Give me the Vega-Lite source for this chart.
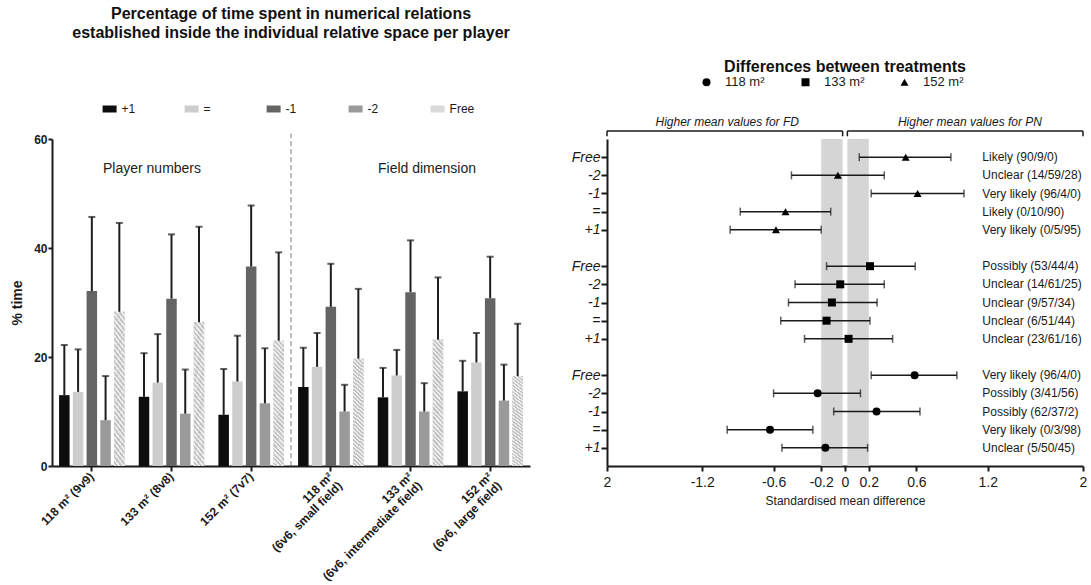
{
  "$schema": "https://vega.github.io/schema/vega-lite/v6.json",
  "padding": {"left": 10, "top": 6, "right": 0, "bottom": 0},
  "spacing": 41,
  "resolve": {"legend": {"color": "independent", "shape": "independent"}},
  "datasets": {
    "shares": [
      {"setting": "118 m² (9v9)", "relation": "+1", "mean": 13.0, "upper": 22.2},
      {"setting": "118 m² (9v9)", "relation": "=", "mean": 13.6, "upper": 21.4},
      {"setting": "118 m² (9v9)", "relation": "-1", "mean": 32.1, "upper": 45.7},
      {"setting": "118 m² (9v9)", "relation": "-2", "mean": 8.4, "upper": 16.5},
      {"setting": "118 m² (9v9)", "relation": "Free", "mean": 28.3, "upper": 44.6},
      {"setting": "133 m² (8v8)", "relation": "+1", "mean": 12.7, "upper": 20.7},
      {"setting": "133 m² (8v8)", "relation": "=", "mean": 15.3, "upper": 24.2},
      {"setting": "133 m² (8v8)", "relation": "-1", "mean": 30.7, "upper": 42.5},
      {"setting": "133 m² (8v8)", "relation": "-2", "mean": 9.6, "upper": 17.7},
      {"setting": "133 m² (8v8)", "relation": "Free", "mean": 26.4, "upper": 43.9},
      {"setting": "152 m² (7v7)", "relation": "+1", "mean": 9.4, "upper": 17.8},
      {"setting": "152 m² (7v7)", "relation": "=", "mean": 15.5, "upper": 23.9},
      {"setting": "152 m² (7v7)", "relation": "-1", "mean": 36.6, "upper": 47.8},
      {"setting": "152 m² (7v7)", "relation": "-2", "mean": 11.5, "upper": 21.6},
      {"setting": "152 m² (7v7)", "relation": "Free", "mean": 23.0, "upper": 39.2},
      {"setting": "118 m²|(6v6, small field)", "relation": "+1", "mean": 14.5, "upper": 21.7},
      {"setting": "118 m²|(6v6, small field)", "relation": "=", "mean": 18.2, "upper": 24.4},
      {"setting": "118 m²|(6v6, small field)", "relation": "-1", "mean": 29.2, "upper": 37.1},
      {"setting": "118 m²|(6v6, small field)", "relation": "-2", "mean": 10.0, "upper": 14.9},
      {"setting": "118 m²|(6v6, small field)", "relation": "Free", "mean": 19.7, "upper": 32.5},
      {"setting": "133 m²|(6v6, intermediate field)", "relation": "+1", "mean": 12.6, "upper": 18.0},
      {"setting": "133 m²|(6v6, intermediate field)", "relation": "=", "mean": 16.6, "upper": 21.3},
      {"setting": "133 m²|(6v6, intermediate field)", "relation": "-1", "mean": 31.9, "upper": 41.4},
      {"setting": "133 m²|(6v6, intermediate field)", "relation": "-2", "mean": 10.0, "upper": 15.2},
      {"setting": "133 m²|(6v6, intermediate field)", "relation": "Free", "mean": 23.2, "upper": 34.6},
      {"setting": "152 m²|(6v6, large field)", "relation": "+1", "mean": 13.7, "upper": 19.3},
      {"setting": "152 m²|(6v6, large field)", "relation": "=", "mean": 19.0, "upper": 24.4},
      {"setting": "152 m²|(6v6, large field)", "relation": "-1", "mean": 30.8, "upper": 38.4},
      {"setting": "152 m²|(6v6, large field)", "relation": "-2", "mean": 12.0, "upper": 18.6},
      {"setting": "152 m²|(6v6, large field)", "relation": "Free", "mean": 16.5, "upper": 26.1}
    ],
    "panels": [
      {"note": "Player numbers", "setting": "133 m² (8v8)"},
      {"note": "Field dimension", "setting": "133 m²|(6v6, intermediate field)"}
    ],
    "diffs": [
      {"area": "152 m²", "relation": "Free", "row": 17, "est": 0.51, "lo": 0.12, "hi": 0.89, "inference": "Likely (90/9/0)"},
      {"area": "152 m²", "relation": "-2", "row": 16, "est": -0.06, "lo": -0.45, "hi": 0.33, "inference": "Unclear (14/59/28)"},
      {"area": "152 m²", "relation": "-1", "row": 15, "est": 0.61, "lo": 0.22, "hi": 1.0, "inference": "Very likely (96/4/0)"},
      {"area": "152 m²", "relation": "=", "row": 14, "est": -0.5, "lo": -0.88, "hi": -0.12, "inference": "Likely (0/10/90)"},
      {"area": "152 m²", "relation": "+1", "row": 13, "est": -0.58, "lo": -0.965, "hi": -0.2, "inference": "Very likely (0/5/95)"},
      {"area": "133 m²", "relation": "Free", "row": 11, "est": 0.21, "lo": -0.155, "hi": 0.59, "inference": "Possibly (53/44/4)"},
      {"area": "133 m²", "relation": "-2", "row": 10, "est": -0.04, "lo": -0.42, "hi": 0.33, "inference": "Unclear (14/61/25)"},
      {"area": "133 m²", "relation": "-1", "row": 9, "est": -0.11, "lo": -0.475, "hi": 0.27, "inference": "Unclear (9/57/34)"},
      {"area": "133 m²", "relation": "=", "row": 8, "est": -0.155, "lo": -0.54, "hi": 0.21, "inference": "Unclear (6/51/44)"},
      {"area": "133 m²", "relation": "+1", "row": 7, "est": 0.03, "lo": -0.34, "hi": 0.4, "inference": "Unclear (23/61/16)"},
      {"area": "118 m²", "relation": "Free", "row": 5, "est": 0.585, "lo": 0.22, "hi": 0.94, "inference": "Very likely (96/4/0)"},
      {"area": "118 m²", "relation": "-2", "row": 4, "est": -0.23, "lo": -0.6, "hi": 0.13, "inference": "Possibly (3/41/56)"},
      {"area": "118 m²", "relation": "-1", "row": 3, "est": 0.265, "lo": -0.095, "hi": 0.63, "inference": "Possibly (62/37/2)"},
      {"area": "118 m²", "relation": "=", "row": 2, "est": -0.63, "lo": -0.99, "hi": -0.27, "inference": "Very likely (0/3/98)"},
      {"area": "118 m²", "relation": "+1", "row": 1, "est": -0.165, "lo": -0.53, "hi": 0.19, "inference": "Unclear (5/50/45)"}
    ],
    "bands": [
      {"lo": -0.2, "hi": -0.02},
      {"lo": 0.02, "hi": 0.2}
    ],
    "brackets": [
      {"side": "FD", "from": -2, "to": -0.02, "mid": -0.99, "note": "Higher mean values for FD"},
      {"side": "PN", "from": 0.02, "to": 2, "mid": 1.05, "note": "Higher mean values for PN"}
    ]
  },
  "hconcat": [
    {
      "width": 478,
      "height": 327,
      "title": {
        "text": ["Percentage of time spent in numerical relations", "established inside the individual relative space per player"],
        "fontSize": 16, "fontWeight": "bold", "anchor": "middle", "frame": "group",
        "offset": 61, "lineHeight": 19, "color": "#111111"
      },
      "layer": [
        {
          "data": {"name": "shares"},
          "mark": {"type": "bar"},
          "encoding": {
            "x": {
              "field": "setting", "type": "nominal",
              "scale": {"domain": ["118 m² (9v9)", "133 m² (8v8)", "152 m² (7v7)", "118 m²|(6v6, small field)", "133 m²|(6v6, intermediate field)", "152 m²|(6v6, large field)"], "paddingInner": 0, "paddingOuter": 0},
              "axis": {"title": null, "labelExpr": "split(datum.label, '|')", "labelAngle": -45, "labelAlign": "right", "labelBaseline": "middle", "labelFontSize": 12, "labelFontWeight": "bold", "labelPadding": 3, "labelLineHeight": 13, "labelLimit": 300, "labelOverlap": false, "tickSize": 5, "tickWidth": 2, "domainWidth": 2}
            },
            "xOffset": {"field": "relation", "type": "nominal", "scale": {"domain": ["+1", "=", "-1", "-2", "Free"], "paddingInner": 0.236, "paddingOuter": 0.515}},
            "y": {
              "field": "mean", "type": "quantitative",
              "scale": {"domain": [0, 60], "nice": false},
              "axis": {"values": [0, 20, 40, 60], "title": "% time", "titleFontSize": 14, "titleFontWeight": "bold", "titlePadding": 9, "labelFontSize": 12, "labelFontWeight": "bold", "labelPadding": 1, "tickSize": 4, "tickWidth": 2, "domainWidth": 2}
            },
            "color": {
              "field": "relation", "type": "nominal",
              "scale": {"domain": ["+1", "=", "-1", "-2", "Free"], "range": ["#0d0d0d", "#cdcdcd", "#646464", "#9a9a9a", "#dadada"]},
              "legend": {"orient": "none", "legendX": 50.6, "legendY": -37, "direction": "horizontal", "title": null, "gridAlign": "all", "columnPadding": 38, "labelFontSize": 12, "labelOffset": 5, "symbolType": "M-1,-0.5H1V0.5H-1Z", "symbolSize": 196, "symbolStrokeWidth": 0, "padding": 0}
            }
          }
        },
        {
          "data": {"name": "shares"},
          "transform": [{"filter": "datum.relation == 'Free'"}],
          "mark": {
            "type": "bar",
            "fill": {
              "gradient": "linear", "x1": 0, "y1": 1, "x2": 0.0938, "y2": -0.0788,
              "stops": [
                {"offset": 0, "color": "#ececec"}, {"offset": 0.01667, "color": "#ececec"}, {"offset": 0.01667, "color": "#c3c3c3"}, {"offset": 0.03333, "color": "#c3c3c3"},
                {"offset": 0.03333, "color": "#ececec"}, {"offset": 0.05, "color": "#ececec"}, {"offset": 0.05, "color": "#c3c3c3"}, {"offset": 0.06667, "color": "#c3c3c3"},
                {"offset": 0.06667, "color": "#ececec"}, {"offset": 0.08333, "color": "#ececec"}, {"offset": 0.08333, "color": "#c3c3c3"}, {"offset": 0.1, "color": "#c3c3c3"},
                {"offset": 0.1, "color": "#ececec"}, {"offset": 0.11667, "color": "#ececec"}, {"offset": 0.11667, "color": "#c3c3c3"}, {"offset": 0.13333, "color": "#c3c3c3"},
                {"offset": 0.13333, "color": "#ececec"}, {"offset": 0.15, "color": "#ececec"}, {"offset": 0.15, "color": "#c3c3c3"}, {"offset": 0.16667, "color": "#c3c3c3"},
                {"offset": 0.16667, "color": "#ececec"}, {"offset": 0.18333, "color": "#ececec"}, {"offset": 0.18333, "color": "#c3c3c3"}, {"offset": 0.2, "color": "#c3c3c3"},
                {"offset": 0.2, "color": "#ececec"}, {"offset": 0.21667, "color": "#ececec"}, {"offset": 0.21667, "color": "#c3c3c3"}, {"offset": 0.23333, "color": "#c3c3c3"},
                {"offset": 0.23333, "color": "#ececec"}, {"offset": 0.25, "color": "#ececec"}, {"offset": 0.25, "color": "#c3c3c3"}, {"offset": 0.26667, "color": "#c3c3c3"},
                {"offset": 0.26667, "color": "#ececec"}, {"offset": 0.28333, "color": "#ececec"}, {"offset": 0.28333, "color": "#c3c3c3"}, {"offset": 0.3, "color": "#c3c3c3"},
                {"offset": 0.3, "color": "#ececec"}, {"offset": 0.31667, "color": "#ececec"}, {"offset": 0.31667, "color": "#c3c3c3"}, {"offset": 0.33333, "color": "#c3c3c3"},
                {"offset": 0.33333, "color": "#ececec"}, {"offset": 0.35, "color": "#ececec"}, {"offset": 0.35, "color": "#c3c3c3"}, {"offset": 0.36667, "color": "#c3c3c3"},
                {"offset": 0.36667, "color": "#ececec"}, {"offset": 0.38333, "color": "#ececec"}, {"offset": 0.38333, "color": "#c3c3c3"}, {"offset": 0.4, "color": "#c3c3c3"},
                {"offset": 0.4, "color": "#ececec"}, {"offset": 0.41667, "color": "#ececec"}, {"offset": 0.41667, "color": "#c3c3c3"}, {"offset": 0.43333, "color": "#c3c3c3"},
                {"offset": 0.43333, "color": "#ececec"}, {"offset": 0.45, "color": "#ececec"}, {"offset": 0.45, "color": "#c3c3c3"}, {"offset": 0.46667, "color": "#c3c3c3"},
                {"offset": 0.46667, "color": "#ececec"}, {"offset": 0.48333, "color": "#ececec"}, {"offset": 0.48333, "color": "#c3c3c3"}, {"offset": 0.5, "color": "#c3c3c3"},
                {"offset": 0.5, "color": "#ececec"}, {"offset": 0.51667, "color": "#ececec"}, {"offset": 0.51667, "color": "#c3c3c3"}, {"offset": 0.53333, "color": "#c3c3c3"},
                {"offset": 0.53333, "color": "#ececec"}, {"offset": 0.55, "color": "#ececec"}, {"offset": 0.55, "color": "#c3c3c3"}, {"offset": 0.56667, "color": "#c3c3c3"},
                {"offset": 0.56667, "color": "#ececec"}, {"offset": 0.58333, "color": "#ececec"}, {"offset": 0.58333, "color": "#c3c3c3"}, {"offset": 0.6, "color": "#c3c3c3"},
                {"offset": 0.6, "color": "#ececec"}, {"offset": 0.61667, "color": "#ececec"}, {"offset": 0.61667, "color": "#c3c3c3"}, {"offset": 0.63333, "color": "#c3c3c3"},
                {"offset": 0.63333, "color": "#ececec"}, {"offset": 0.65, "color": "#ececec"}, {"offset": 0.65, "color": "#c3c3c3"}, {"offset": 0.66667, "color": "#c3c3c3"},
                {"offset": 0.66667, "color": "#ececec"}, {"offset": 0.68333, "color": "#ececec"}, {"offset": 0.68333, "color": "#c3c3c3"}, {"offset": 0.7, "color": "#c3c3c3"},
                {"offset": 0.7, "color": "#ececec"}, {"offset": 0.71667, "color": "#ececec"}, {"offset": 0.71667, "color": "#c3c3c3"}, {"offset": 0.73333, "color": "#c3c3c3"},
                {"offset": 0.73333, "color": "#ececec"}, {"offset": 0.75, "color": "#ececec"}, {"offset": 0.75, "color": "#c3c3c3"}, {"offset": 0.76667, "color": "#c3c3c3"},
                {"offset": 0.76667, "color": "#ececec"}, {"offset": 0.78333, "color": "#ececec"}, {"offset": 0.78333, "color": "#c3c3c3"}, {"offset": 0.8, "color": "#c3c3c3"},
                {"offset": 0.8, "color": "#ececec"}, {"offset": 0.81667, "color": "#ececec"}, {"offset": 0.81667, "color": "#c3c3c3"}, {"offset": 0.83333, "color": "#c3c3c3"},
                {"offset": 0.83333, "color": "#ececec"}, {"offset": 0.85, "color": "#ececec"}, {"offset": 0.85, "color": "#c3c3c3"}, {"offset": 0.86667, "color": "#c3c3c3"},
                {"offset": 0.86667, "color": "#ececec"}, {"offset": 0.88333, "color": "#ececec"}, {"offset": 0.88333, "color": "#c3c3c3"}, {"offset": 0.9, "color": "#c3c3c3"},
                {"offset": 0.9, "color": "#ececec"}, {"offset": 0.91667, "color": "#ececec"}, {"offset": 0.91667, "color": "#c3c3c3"}, {"offset": 0.93333, "color": "#c3c3c3"},
                {"offset": 0.93333, "color": "#ececec"}, {"offset": 0.95, "color": "#ececec"}, {"offset": 0.95, "color": "#c3c3c3"}, {"offset": 0.96667, "color": "#c3c3c3"},
                {"offset": 0.96667, "color": "#ececec"}, {"offset": 0.98333, "color": "#ececec"}, {"offset": 0.98333, "color": "#c3c3c3"}, {"offset": 1, "color": "#c3c3c3"}
              ]
            }
          },
          "encoding": {
            "x": {"field": "setting", "type": "nominal"},
            "xOffset": {"field": "relation", "type": "nominal"},
            "y": {"field": "mean", "type": "quantitative"}
          }
        },
        {
          "data": {"name": "shares"},
          "mark": {"type": "rule", "color": "#1e1e1e", "strokeWidth": 2},
          "encoding": {
            "x": {"field": "setting", "type": "nominal"},
            "xOffset": {"field": "relation", "type": "nominal"},
            "y": {"field": "mean", "type": "quantitative"},
            "y2": {"field": "upper"}
          }
        },
        {
          "data": {"name": "shares"},
          "mark": {"type": "tick", "orient": "horizontal", "color": "#1e1e1e", "thickness": 2, "size": 7},
          "encoding": {
            "x": {"field": "setting", "type": "nominal"},
            "xOffset": {"field": "relation", "type": "nominal"},
            "y": {"field": "upper", "type": "quantitative"}
          }
        },
        {
          "data": {"name": "panels"},
          "transform": [{"filter": "datum.note == 'Player numbers'"}],
          "mark": {"type": "rule", "strokeDash": [5, 3], "color": "#777777", "strokeWidth": 1},
          "encoding": {
            "x": {"datum": "118 m²|(6v6, small field)", "type": "nominal", "bandPosition": 0},
            "y": {"datum": 0, "type": "quantitative"},
            "y2": {"datum": 61}
          }
        },
        {
          "data": {"name": "panels"},
          "transform": [{"filter": "datum.note == 'Player numbers'"}],
          "mark": {"type": "text", "fontSize": 14, "dx": -19.5, "color": "#222222", "baseline": "middle"},
          "encoding": {
            "x": {"field": "setting", "type": "nominal"},
            "y": {"datum": 54.5, "type": "quantitative"},
            "text": {"field": "note"}
          }
        },
        {
          "data": {"name": "panels"},
          "transform": [{"filter": "datum.note == 'Field dimension'"}],
          "mark": {"type": "text", "fontSize": 14, "dx": 16.5, "color": "#222222", "baseline": "middle"},
          "encoding": {
            "x": {"field": "setting", "type": "nominal"},
            "y": {"datum": 54.5, "type": "quantitative"},
            "text": {"field": "note"}
          }
        }
      ]
    },
    {
      "width": 476,
      "height": 327,
      "title": {"text": "Differences between treatments", "fontSize": 16, "fontWeight": "bold", "anchor": "middle", "frame": "group", "offset": 1, "color": "#111111"},
      "layer": [
        {
          "data": {"name": "bands"},
          "mark": {"type": "rect", "color": "#d5d5d5"},
          "encoding": {
            "x": {"field": "lo", "type": "quantitative"},
            "x2": {"field": "hi"},
            "y": {"datum": 0, "type": "quantitative"},
            "y2": {"datum": 18}
          }
        },
        {
          "data": {"name": "brackets"},
          "mark": {"type": "rule", "color": "#1a1a1a", "strokeWidth": 1.5},
          "encoding": {
            "x": {"field": "from", "type": "quantitative"},
            "x2": {"field": "to"},
            "y": {"datum": 18.44, "type": "quantitative"}
          }
        },
        {
          "data": {"name": "brackets"},
          "mark": {"type": "rule", "color": "#1a1a1a", "strokeWidth": 1.5},
          "encoding": {
            "x": {"field": "from", "type": "quantitative"},
            "y": {"datum": 18.15, "type": "quantitative"},
            "y2": {"datum": 18.44}
          }
        },
        {
          "data": {"name": "brackets"},
          "mark": {"type": "rule", "color": "#1a1a1a", "strokeWidth": 1.5},
          "encoding": {
            "x": {"field": "to", "type": "quantitative"},
            "y": {"datum": 18.15, "type": "quantitative"},
            "y2": {"datum": 18.44}
          }
        },
        {
          "data": {"name": "brackets"},
          "mark": {"type": "text", "fontStyle": "italic", "fontSize": 12, "baseline": "middle", "color": "#1a1a1a"},
          "encoding": {
            "x": {"field": "mid", "type": "quantitative"},
            "y": {"datum": 18.95, "type": "quantitative"},
            "text": {"field": "note"}
          }
        },
        {
          "data": {"name": "diffs"},
          "mark": {"type": "rule", "color": "#1a1a1a", "strokeWidth": 1.5},
          "encoding": {
            "x": {"field": "lo", "type": "quantitative"},
            "x2": {"field": "hi"},
            "y": {"field": "row", "type": "quantitative"}
          }
        },
        {
          "data": {"name": "diffs"},
          "mark": {"type": "tick", "orient": "vertical", "size": 8, "thickness": 1.5, "color": "#1a1a1a"},
          "encoding": {
            "x": {"field": "lo", "type": "quantitative"},
            "y": {"field": "row", "type": "quantitative"}
          }
        },
        {
          "data": {"name": "diffs"},
          "mark": {"type": "tick", "orient": "vertical", "size": 8, "thickness": 1.5, "color": "#1a1a1a"},
          "encoding": {
            "x": {"field": "hi", "type": "quantitative"},
            "y": {"field": "row", "type": "quantitative"}
          }
        },
        {
          "data": {"name": "diffs"},
          "mark": {"type": "point", "filled": true, "color": "#000000", "size": 64, "opacity": 1},
          "encoding": {
            "x": {
              "field": "est", "type": "quantitative",
              "scale": {"domain": [-2, 2], "nice": false, "zero": false},
              "axis": {"values": [-2, -1.2, -0.6, -0.2, 0, 0.2, 0.6, 1.2, 2], "tickCount": 20, "labelExpr": "datum.value == -2 ? '2' : toString(datum.value)", "title": "Standardised mean difference", "titleFontSize": 12, "titleFontWeight": "normal", "titlePadding": 6, "labelFontSize": 14, "labelPadding": 4, "labelFlush": false, "labelOverlap": false, "tickSize": 5, "tickWidth": 2, "domainWidth": 2}
            },
            "y": {
              "field": "row", "type": "quantitative",
              "scale": {"domain": [0, 18], "nice": false, "zero": false},
              "axis": {"values": [1, 2, 3, 4, 5, 7, 8, 9, 10, 11, 13, 14, 15, 16, 17], "tickCount": 40, "labelExpr": "['', '+1', '=', '-1', '-2', 'Free'][datum.value % 6]", "title": null, "labelFontSize": 14, "labelFontStyle": "italic", "labelPadding": 1, "labelOverlap": false, "tickSize": 6, "tickWidth": 2, "domainWidth": 2}
            },
            "shape": {
              "field": "area", "type": "nominal",
              "scale": {"domain": ["118 m²", "133 m²", "152 m²"], "range": ["circle", "square", "triangle-up"]},
              "legend": {"orient": "none", "legendX": 93, "legendY": -63.5, "direction": "horizontal", "title": null, "gridAlign": "all", "columnPadding": 32, "labelFontSize": 13, "labelOffset": 12, "symbolSize": 64, "symbolFillColor": "#000000", "symbolStrokeColor": "#000000", "padding": 0}
            }
          }
        },
        {
          "data": {"name": "diffs"},
          "mark": {"type": "text", "align": "left", "baseline": "middle", "fontSize": 12, "color": "#1a1a1a"},
          "encoding": {
            "x": {"datum": 1.154, "type": "quantitative"},
            "y": {"field": "row", "type": "quantitative"},
            "text": {"field": "inference"}
          }
        }
      ]
    }
  ],
  "config": {
    "font": "Liberation Sans",
    "view": {"stroke": null},
    "axis": {"grid": false, "domainColor": "#1a1a1a", "tickColor": "#1a1a1a", "labelColor": "#1a1a1a", "titleColor": "#1a1a1a"},
    "legend": {"labelColor": "#1a1a1a"}
  }
}
